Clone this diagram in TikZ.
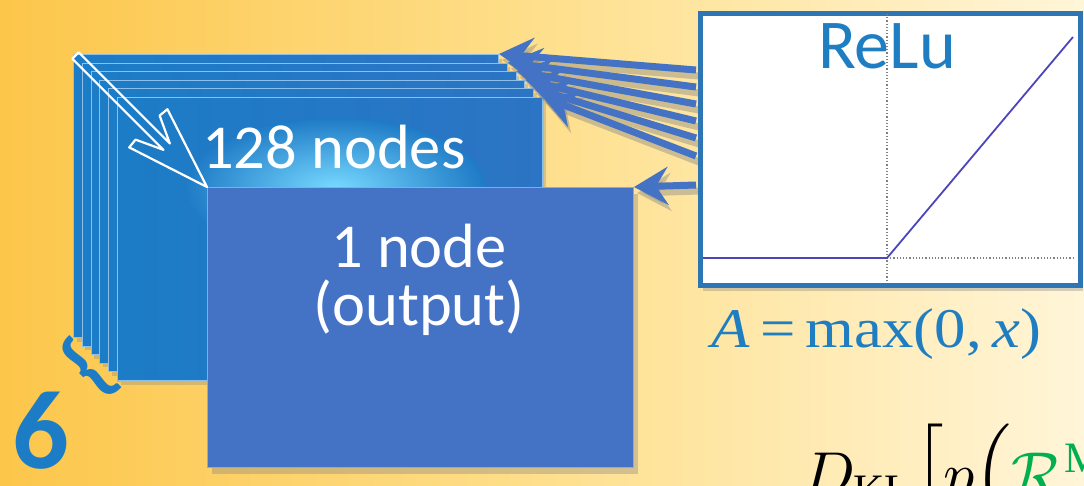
\documentclass[tikz,border=0pt]{standalone}
\usepackage{fontspec}
\usepackage{amsmath}
\setmainfont{Carlito}
\newfontfamily\timesf{Liberation Serif}
\usetikzlibrary{arrows.meta,shadows,calc}
\definecolor{bgL}{HTML}{FCC64A}
\definecolor{bgM}{HTML}{FEDF8C}
\definecolor{bgR}{HTML}{FFF5D8}
\definecolor{layA}{HTML}{1C7CC6}
\definecolor{layB}{HTML}{2C74C4}
\definecolor{layedge}{HTML}{8CC0EA}
\definecolor{outbox}{HTML}{4472C4}
\definecolor{outedge}{HTML}{8FA8DC}
\definecolor{arrowblue}{HTML}{4472C4}
\definecolor{relublue}{HTML}{2E75B6}
\definecolor{textblue}{HTML}{1F7EC2}
\definecolor{plotline}{HTML}{4C45BC}
\definecolor{klgreen}{HTML}{00B050}
\begin{document}
\begin{tikzpicture}[x=1pt,y=-1pt,
  layer/.style={rectangle, inner sep=0pt, minimum width=425pt, minimum height=283pt, anchor=north west,
    draw=layedge, line width=1pt, left color=layA, right color=layB,
    drop shadow={shadow xshift=3pt, shadow yshift=-4pt, opacity=.3}},
  outstyle/.style={rectangle, inner sep=0pt, minimum width=426pt, minimum height=280pt, anchor=north west,
    fill=outbox, draw=outedge, line width=1pt,
    drop shadow={shadow xshift=4pt, shadow yshift=-6pt, opacity=.35}},
  conn/.style={draw=arrowblue, line width=7pt, -{Stealth[length=34pt,width=38pt,inset=12pt]}},
  connshadow/.style={draw=black!50, opacity=.4, line width=7pt, -{Stealth[length=34pt,width=38pt,inset=12pt]}},
  whitetext/.style={text=white, font=\fontsize{62.5}{66}\selectfont, inner sep=0pt},
]
\useasboundingbox (0,0) rectangle (1084,485);
\clip (0,0) rectangle (1084,485);
% background
\fill[left color=bgL, right color=bgR, middle color=bgM] (0,0) rectangle (1084,485);

% stacked layers
\node[layer] (L0) at (73,54) {};
\node[layer] (L1) at (81.8,62.6) {};
\node[layer] (L2) at (90.6,71.2) {};
\node[layer] (L3) at (99.4,79.8) {};
\node[layer] (L4) at (108.2,88.4) {};
\node[layer] (L5) at (117,97) {};
\begin{scope}
  \clip (L5.north west) rectangle (L5.south east);
  \shade[inner color=cyan!45!white!85!blue, outer color=layA!85!layB] (335,188) ellipse (150 and 70);
\end{scope}
\draw[layedge, line width=1pt] (L5.north west) rectangle (L5.south east);

\node[whitetext, anchor=base west] (t128) at (202,168) {128 nodes};

% output box
\node[outstyle] (out) at (207,187) {};
\node[whitetext, anchor=base] (t1) at (419,267) {1 node};
\node[whitetext, anchor=base] (t2) at (419,325) {(output)};

% hollow white arrow from back layer corner to output corner
\begin{scope}[shift={(out.north west)}, rotate=-45]
  \draw[white, line width=2.2pt, line join=round]
    (-186,-4.5) -- (-57,-4.5) -- (-84,-17) -- (-83,-27) -- (0,0) -- (-83,27) -- (-84,17) -- (-57,4.5) -- (-186,4.5) -- cycle;
\end{scope}

% arrow start points on the ReLU box edge
\coordinate (s0) at (696,70);
\coordinate (s1) at (696,87);
\coordinate (s2) at (696,104);
\coordinate (s3) at (696,121);
\coordinate (s4) at (696,138);
\coordinate (s5) at (696,156);
\coordinate (s6) at (696,185);

% arrow shadows
\foreach \i in {0,...,5}{
  \draw[connshadow] ([shift={(3,6)}]s\i) -- ([shift={(3,6)}]L\i.north east);
}
\draw[connshadow] ([shift={(3,6)}]s6) -- ([shift={(3,6)}]out.north east);
% arrows
\foreach \i in {0,...,5}{
  \draw[conn] (s\i) -- (L\i.north east);
}
\draw[conn] (s6) -- (out.north east);

\node[rectangle, anchor=north west, minimum width=380pt, minimum height=272pt, inner sep=0pt,
  fill=white, draw=relublue, line width=5pt,
  drop shadow={shadow xshift=3pt, shadow yshift=-6pt, opacity=.35}] (relu) at (697.5,10.5) {};
\draw[gray, dotted, line width=1.2pt] (887,14) -- (887,281);
\draw[gray, dotted, line width=1.2pt] (887,258) -- (1073,258);
\draw[plotline, line width=1.8pt] (703,258) -- (887,258) -- (1073,37);
\node[text=textblue, font=\fontsize{70}{72}\selectfont, anchor=base, inner sep=0pt] (relut) at (887,68) {ReLu};

% formula
\node[text=textblue, font=\timesf\fontsize{56}{58}\selectfont, anchor=base west, inner sep=0pt] (formula) at (711,347)
  {\scalebox{1.12}[1]{\textit{A}\,=\,max(0,\,\textit{x})}};

% six and brace
\node[text=layA, font=\bfseries\fontsize{112}{112}\selectfont, inner sep=0pt, anchor=base] (six) at (41,468) {6};
\node[text=layA, rotate=45, font=\bfseries\fontsize{84}{84}\selectfont, inner sep=0pt] (brace) at (89,368) {\{};

% KL formula (cut off)
\node[anchor=base west, inner sep=0pt] (kl) at (802,495)
  {\scalebox{6.2}{$D_{\text{\timesf KL}}\Big[p\Big(\textcolor{klgreen}{\mathcal{R}^{\text{\timesf MI}}}$}};
\end{tikzpicture}
\end{document}
